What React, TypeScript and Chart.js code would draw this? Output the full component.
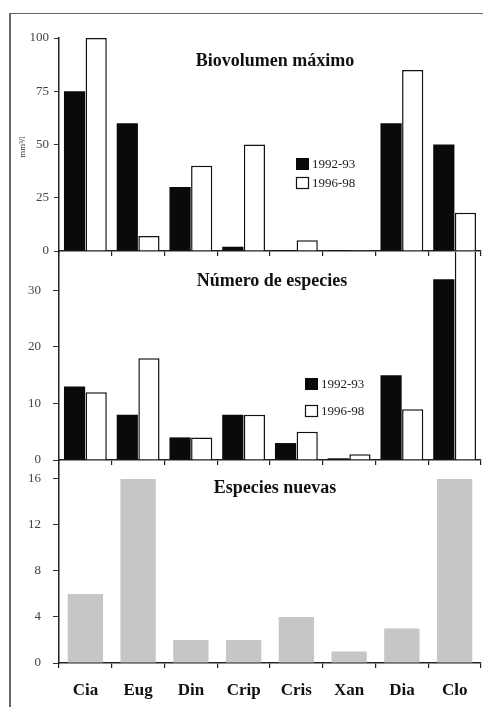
import React, { useEffect, useRef } from "react";
import { Chart, registerables } from "chart.js";
Chart.register(...registerables);

const categories = ["Cia", "Eug", "Din", "Crip", "Cris", "Xan", "Dia", "Clo"];
const seriesLabels = ["1992-93", "1996-98"];
const biovolumen9293 = [75, 60, 30, 2, 0.4, 0.4, 60, 50];
const biovolumen9698 = [100, 7, 40, 50, 5, 0.4, 85, 18];
const especies9293 = [13, 8, 4, 8, 3, 0.3, 15, 32];
const especies9698 = [12, 18, 4, 8, 5, 1, 9, 38];
const nuevas = [6, 16, 2, 2, 4, 1, 3, 16];
const biovolumenTicks = [0, 25, 50, 75, 100];
const especiesTicks = [0, 10, 20, 30];
const nuevasTicks = [0, 4, 8, 12, 16];
const titles = ["Biovolumen máximo", "Número de especies", "Especies nuevas"];
const unitLabel = "mm³/l";

const W = 483;
const H = 707;
const SERIF = "'Liberation Serif', 'DejaVu Serif', serif";

type PanelOpts = {
  top: number;
  bottom: number;
  max: number;
  ticks: number[];
  datasets: any[];
  title: string;
  titlePos: [number, number];
  legendPos?: [number, number, number];
  showX: boolean;
  xHeight: number;
  yTickLen: number;
  yTickPad: number;
  unit?: boolean;
};

function makeConfig(p: PanelOpts): any {
  const overlay = {
    id: "overlay",
    afterDraw(chart: any) {
      const ctx = chart.ctx;
      ctx.save();
      ctx.fillStyle = "#111";
      ctx.font = `bold 18px ${SERIF}`;
      ctx.textAlign = "center";
      ctx.textBaseline = "middle";
      ctx.fillText(p.title, p.titlePos[0], p.titlePos[1]);
      if (p.legendPos) {
        const [lx, ly, gap] = p.legendPos;
        chart.data.datasets.forEach((ds: any, i: number) => {
          const y = ly + i * gap;
          ctx.fillStyle = ds.backgroundColor;
          ctx.fillRect(lx, y - 6, 13, 12);
          if (ds.borderWidth) {
            ctx.strokeStyle = "#111";
            ctx.lineWidth = 1.2;
            ctx.strokeRect(lx + 0.5, y - 5.5, 12, 11);
          }
          ctx.fillStyle = "#222";
          ctx.font = `13px ${SERIF}`;
          ctx.textAlign = "left";
          ctx.textBaseline = "middle";
          ctx.fillText(ds.label, lx + 16, y + 1);
        });
      }
      if (p.unit) {
        ctx.translate(23, 147);
        ctx.rotate(-Math.PI / 2);
        ctx.fillStyle = "#333";
        ctx.font = `9px ${SERIF}`;
        ctx.textAlign = "center";
        ctx.textBaseline = "middle";
        ctx.fillText(unitLabel, 0, 0);
      }
      ctx.restore();
    },
  };

  return {
    type: "bar",
    data: { labels: categories, datasets: p.datasets },
    plugins: [overlay],
    options: {
      animation: false,
      responsive: false,
      devicePixelRatio: 1,
      layout: {
        padding: { top: p.top, bottom: H - p.bottom - p.xHeight, left: 0, right: 2 },
      },
      plugins: { legend: { display: false }, tooltip: { enabled: false }, title: { display: false } },
      scales: {
        x: {
          type: "category",
          offset: true,
          afterFit: (s: any) => {
            s.height = p.xHeight;
          },
          grid: {
            offset: true,
            drawOnChartArea: false,
            drawTicks: true,
            tickLength: 5,
            color: "#222",
            lineWidth: 1.2,
          },
          border: { display: true, color: "#222", width: 1.5 },
          ticks: {
            display: p.showX,
            color: "#111",
            padding: 12,
            font: { family: SERIF, size: 17, weight: "bold" },
            maxRotation: 0,
            autoSkip: false,
          },
        },
        y: {
          type: "linear",
          min: 0,
          max: p.max,
          afterFit: (s: any) => {
            s.width = 59;
          },
          afterBuildTicks: (s: any) => {
            s.ticks = p.ticks.map((v) => ({ value: v }));
          },
          grid: {
            drawOnChartArea: false,
            drawTicks: true,
            tickLength: p.yTickLen,
            color: "#333",
            lineWidth: 1,
          },
          border: { display: true, color: "#222", width: 1.5 },
          ticks: {
            color: "#444",
            padding: p.yTickPad,
            font: { family: SERIF, size: 13 },
          },
        },
      },
    },
  };
}

function Panel({ opts }: { opts: PanelOpts }) {
  const ref = useRef<HTMLCanvasElement>(null);
  useEffect(() => {
    if (!ref.current) return;
    const chart = new Chart(ref.current, makeConfig(opts));
    return () => chart.destroy();
  }, []);
  return (
    <canvas
      ref={ref}
      width={W}
      height={H}
      style={{ position: "absolute", left: 0, top: 0, width: W, height: H }}
    />
  );
}

const blackDs = (data: number[]) => ({
  label: seriesLabels[0],
  data,
  backgroundColor: "#0a0a0a",
  borderWidth: 0,
  categoryPercentage: 0.82,
  barPercentage: 0.98,
  clip: 0,
});
const whiteDs = (data: number[]) => ({
  label: seriesLabels[1],
  data,
  backgroundColor: "#ffffff",
  borderColor: "#111",
  borderWidth: 1.5,
  categoryPercentage: 0.82,
  barPercentage: 0.98,
  clip: 0,
});

const panel1: PanelOpts = {
  top: 38,
  bottom: 251,
  max: 100,
  ticks: biovolumenTicks,
  datasets: [blackDs(biovolumen9293), whiteDs(biovolumen9698)],
  title: titles[0],
  titlePos: [275, 61],
  legendPos: [296, 164, 19],
  showX: false,
  xHeight: 8,
  yTickLen: 5,
  yTickPad: 5,
  unit: true,
};

const panel2: PanelOpts = {
  top: 252,
  bottom: 460,
  max: 36.8,
  ticks: especiesTicks,
  datasets: [blackDs(especies9293), whiteDs(especies9698)],
  title: titles[1],
  titlePos: [272, 281],
  legendPos: [305, 384, 27],
  showX: false,
  xHeight: 8,
  yTickLen: 6,
  yTickPad: 12,
};

const panel3: PanelOpts = {
  top: 461,
  bottom: 663,
  max: 17.56,
  ticks: nuevasTicks,
  datasets: [
    {
      label: "Especies nuevas",
      data: nuevas,
      backgroundColor: "#c6c6c6",
      borderWidth: 0,
      categoryPercentage: 0.67,
      barPercentage: 1,
      clip: 0,
    },
  ],
  title: titles[2],
  titlePos: [275, 488],
  showX: true,
  xHeight: 44,
  yTickLen: 6,
  yTickPad: 12,
};

export default function App() {
  return (
    <div
      style={{
        position: "absolute",
        left: 0,
        top: 0,
        width: W,
        height: H,
        background: "#fff",
        overflow: "hidden",
      }}
    >
      <div
        style={{
          position: "absolute",
          left: 9,
          top: 13,
          width: W - 9,
          height: H - 13,
          borderTop: "1px solid #666",
          borderLeft: "2px solid #666",
          boxSizing: "border-box",
        }}
      />
      <Panel opts={panel1} />
      <Panel opts={panel2} />
      <Panel opts={panel3} />
    </div>
  );
}
